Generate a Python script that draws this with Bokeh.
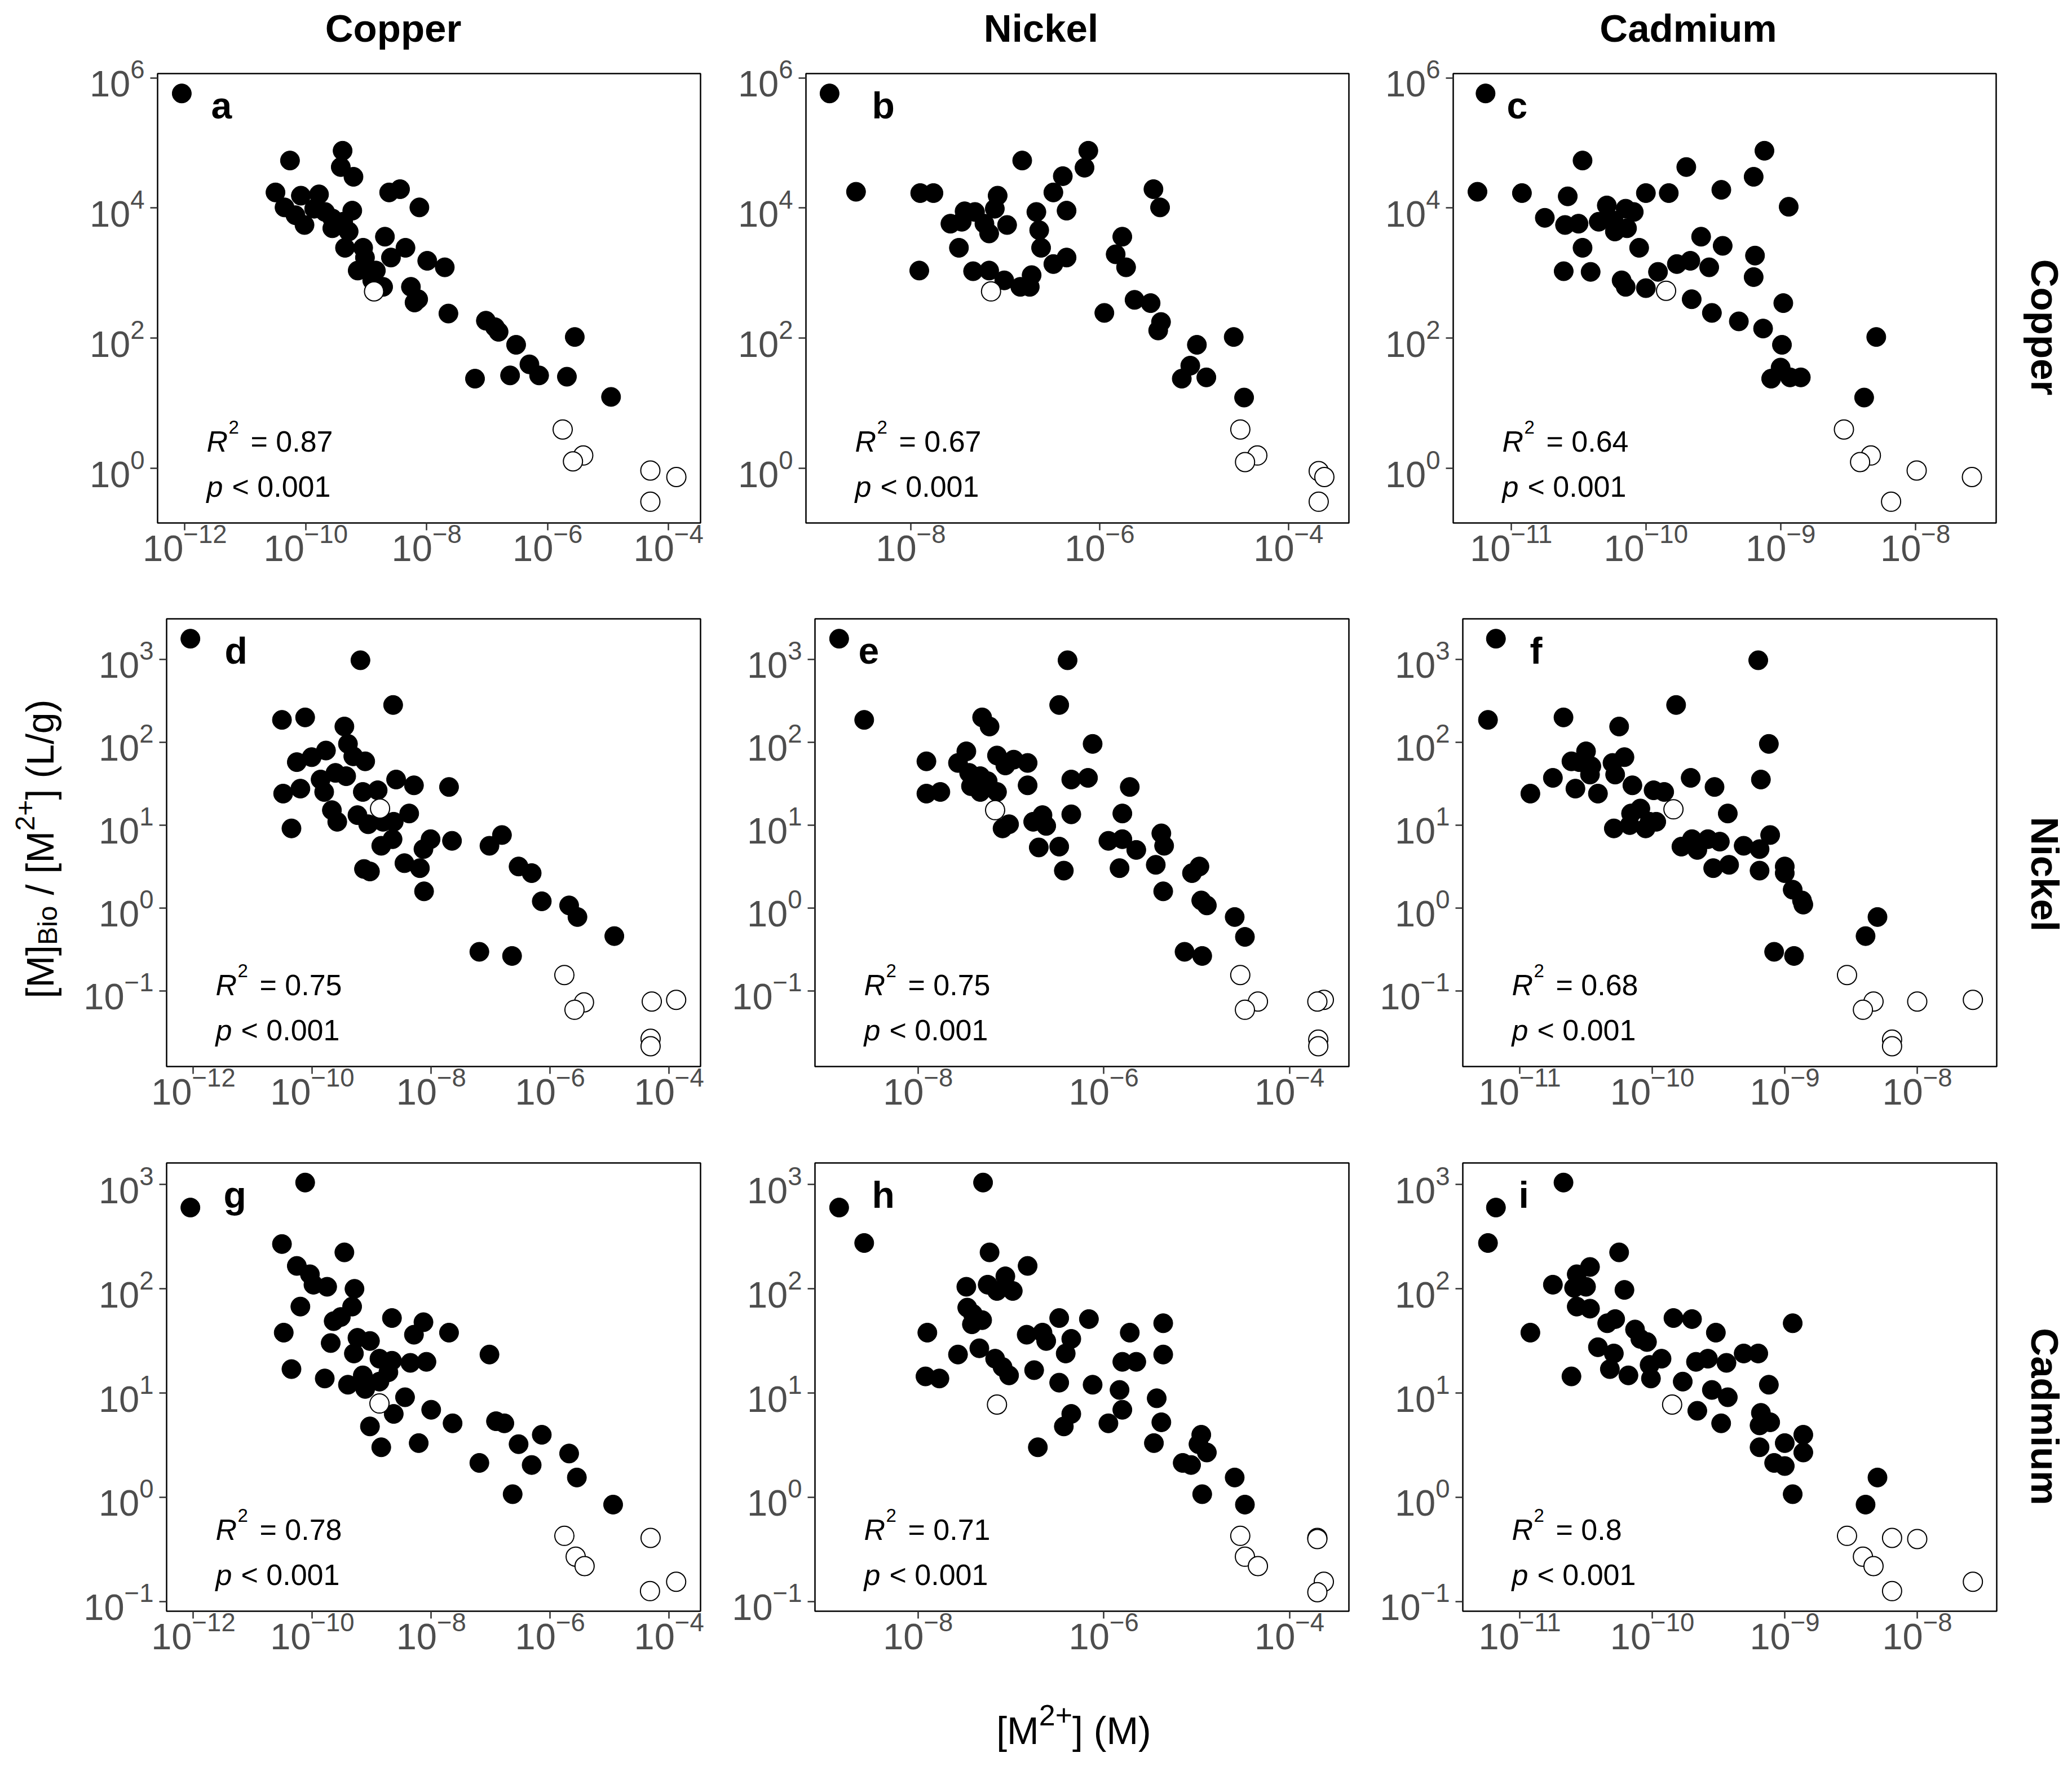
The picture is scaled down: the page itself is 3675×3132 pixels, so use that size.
import math
from bokeh.plotting import figure
from bokeh.layouts import column, row
from bokeh.models import Range1d, FixedTicker, LogTickFormatter
from bokeh.core.properties import value
from bokeh.embed import file_html
from bokeh.resources import INLINE

FONT = "Liberation Sans"

# ---------------- text / tick content ----------------
metals = ["Copper", "Nickel", "Cadmium"]
panel_letters = ["a", "b", "c", "d", "e", "f", "g", "h", "i"]
r2_values = ["0.87", "0.67", "0.64", "0.75", "0.75", "0.68", "0.78", "0.71", "0.8"]
p_value_text = "< 0.001"

# tick exponents (log10) per column (x) and per row (y)
col_x_ticks = [[-12, -10, -8, -6, -4], [-8, -6, -4], [-11, -10, -9, -8]]
row_y_ticks = [[0, 2, 4, 6], [-1, 0, 1, 2, 3], [-1, 0, 1, 2, 3]]
# axis limits (log10)
col_x_limits = [(-12.45, -3.47), (-9.11, -3.36), (-11.43, -7.40)]
row_y_limits = [(-0.836, 6.065), (-1.915, 3.49), (-1.093, 3.208)]

# ---------------- data: (log10 [M2+], log10 ratio) ----------------
a_filled = [(-12.05, 5.76), (-10.26, 4.73), (-9.39, 4.88), (-9.42, 4.63), (-9.21, 4.48), (-10.50, 4.24),
            (-10.08, 4.19), (-9.78, 4.21), (-8.62, 4.24), (-8.44, 4.29), (-8.12, 4.01), (-10.35, 4.01),
            (-10.17, 3.89), (-10.02, 3.74), (-9.86, 3.99), (-9.68, 3.94), (-9.56, 3.84), (-9.56, 3.69),
            (-9.38, 3.79), (-9.23, 3.96), (-9.29, 3.64), (-9.35, 3.39), (-9.05, 3.39), (-9.02, 3.24),
            (-8.69, 3.56), (-8.35, 3.39), (-8.59, 3.24), (-9.14, 3.04), (-8.84, 3.04), (-8.72, 2.79),
            (-8.90, 2.89), (-8.26, 2.79), (-8.14, 2.60), (-8.20, 2.55), (-7.99, 3.19), (-7.70, 3.09),
            (-7.64, 2.38), (-7.02, 2.27), (-6.87, 2.17), (-6.81, 2.10), (-6.52, 1.90), (-5.55, 2.02),
            (-6.30, 1.60), (-6.14, 1.43), (-7.20, 1.38), (-6.62, 1.43), (-5.68, 1.41), (-4.95, 1.10)]
a_open = [(-8.87, 2.72), (-5.75, 0.60), (-5.41, 0.20), (-5.58, 0.11), (-4.30, -0.03), (-3.87, -0.13), (-4.30, -0.51)]

b_filled = [(-8.86, 5.76), (-8.58, 4.25), (-7.90, 4.23), (-7.76, 4.23), (-6.82, 4.73), (-6.12, 4.88),
            (-6.16, 4.62), (-6.39, 4.49), (-6.49, 4.24), (-6.35, 3.96), (-5.43, 4.29), (-5.36, 4.01),
            (-7.08, 4.19), (-7.11, 3.99), (-7.43, 3.95), (-7.32, 3.94), (-7.58, 3.76), (-7.46, 3.79),
            (-7.22, 3.76), (-7.17, 3.61), (-6.98, 3.74), (-6.67, 3.94), (-6.64, 3.66), (-6.62, 3.39),
            (-7.49, 3.39), (-7.91, 3.04), (-7.34, 3.03), (-7.17, 3.04), (-7.01, 2.89), (-6.84, 2.79),
            (-6.74, 2.79), (-6.72, 2.97), (-6.49, 3.14), (-6.35, 3.24), (-5.76, 3.56), (-5.83, 3.29),
            (-5.72, 3.09), (-5.63, 2.59), (-5.46, 2.54), (-5.35, 2.25), (-5.38, 2.12), (-5.95, 2.39),
            (-4.97, 1.90), (-4.58, 2.02), (-5.04, 1.58), (-5.13, 1.38), (-4.87, 1.40), (-4.47, 1.09)]
b_open = [(-7.15, 2.72), (-4.51, 0.60), (-4.33, 0.20), (-4.46, 0.10), (-3.68, -0.04), (-3.62, -0.13), (-3.68, -0.51)]

c_filled = [(-11.19, 5.76), (-11.25, 4.25), (-10.92, 4.23), (-10.47, 4.73), (-9.70, 4.63), (-9.12, 4.88),
            (-9.20, 4.48), (-9.44, 4.28), (-8.94, 4.02), (-10.00, 4.23), (-9.83, 4.23), (-10.58, 4.18),
            (-10.75, 3.85), (-10.60, 3.74), (-10.50, 3.76), (-10.29, 4.04), (-10.35, 3.79), (-10.24, 3.81),
            (-10.15, 3.99), (-10.09, 3.94), (-10.23, 3.64), (-10.14, 3.69), (-10.47, 3.39), (-10.05, 3.39),
            (-10.61, 3.03), (-10.41, 3.02), (-10.18, 2.89), (-10.15, 2.79), (-10.00, 2.77), (-9.91, 3.02),
            (-9.77, 3.14), (-9.67, 3.19), (-9.59, 3.56), (-9.43, 3.42), (-9.53, 3.09), (-9.19, 3.27),
            (-9.20, 2.94), (-9.66, 2.60), (-9.51, 2.39), (-9.31, 2.26), (-9.13, 2.15), (-8.98, 2.54),
            (-8.99, 1.90), (-9.00, 1.55), (-9.07, 1.38), (-8.93, 1.40), (-8.85, 1.40), (-8.29, 2.02),
            (-8.38, 1.09)]
c_open = [(-9.85, 2.73), (-8.53, 0.60), (-8.33, 0.20), (-8.41, 0.10), (-7.99, -0.03), (-7.58, -0.13), (-8.18, -0.51)]

d_filled = [(-12.05, 3.25), (-9.19, 2.99), (-8.64, 2.45), (-10.51, 2.27), (-10.12, 2.30), (-9.46, 2.19),
            (-9.40, 1.98), (-9.77, 1.90), (-10.26, 1.76), (-10.01, 1.82), (-9.31, 1.83), (-9.11, 1.77),
            (-9.61, 1.63), (-9.43, 1.59), (-9.86, 1.55), (-10.20, 1.44), (-10.49, 1.38), (-9.80, 1.40),
            (-9.15, 1.40), (-8.90, 1.42), (-8.59, 1.55), (-8.29, 1.48), (-7.70, 1.46), (-9.67, 1.18),
            (-9.58, 1.04), (-9.24, 1.12), (-9.06, 1.01), (-8.81, 1.04), (-8.63, 1.04), (-8.37, 1.14),
            (-10.35, 0.96), (-8.84, 0.75), (-8.65, 0.83), (-8.13, 0.71), (-8.01, 0.83), (-7.65, 0.81),
            (-8.45, 0.54), (-8.19, 0.48), (-9.13, 0.47), (-9.03, 0.44), (-8.12, 0.20), (-7.02, 0.75),
            (-6.81, 0.88), (-6.53, 0.50), (-6.31, 0.42), (-6.14, 0.08), (-5.68, 0.03), (-5.54, -0.11),
            (-4.92, -0.34), (-7.19, -0.53), (-6.64, -0.58)]
d_open = [(-8.86, 1.20), (-5.76, -0.81), (-5.43, -1.14), (-5.59, -1.23), (-4.29, -1.13), (-3.88, -1.11),
          (-4.31, -1.58), (-4.31, -1.67)]

e_filled = [(-8.85, 3.25), (-8.58, 2.27), (-6.39, 2.99), (-6.48, 2.45), (-7.31, 2.30), (-7.23, 2.19),
            (-6.12, 1.98), (-7.91, 1.77), (-7.48, 1.89), (-7.57, 1.75), (-7.15, 1.84), (-7.06, 1.72),
            (-6.97, 1.79), (-6.82, 1.75), (-7.45, 1.63), (-7.33, 1.59), (-7.25, 1.53), (-7.43, 1.47),
            (-7.33, 1.40), (-7.15, 1.40), (-6.82, 1.48), (-6.35, 1.55), (-6.17, 1.57), (-5.72, 1.46),
            (-7.91, 1.38), (-7.76, 1.40), (-6.66, 1.12), (-6.76, 1.04), (-6.62, 0.99), (-7.09, 0.96),
            (-7.02, 1.01), (-6.35, 1.13), (-5.80, 1.14), (-6.70, 0.73), (-6.48, 0.74), (-6.43, 0.45),
            (-5.95, 0.81), (-5.80, 0.83), (-5.65, 0.70), (-5.83, 0.48), (-5.38, 0.90), (-5.35, 0.75),
            (-5.44, 0.52), (-5.36, 0.20), (-4.97, 0.50), (-5.05, 0.42), (-4.95, 0.09), (-4.89, 0.03),
            (-4.59, -0.11), (-4.48, -0.35), (-5.13, -0.53), (-4.94, -0.58)]
e_open = [(-7.17, 1.18), (-4.53, -0.81), (-4.34, -1.13), (-4.48, -1.23), (-3.63, -1.11), (-3.70, -1.13),
          (-3.69, -1.59), (-3.69, -1.67)]

f_filled = [(-11.18, 3.25), (-11.24, 2.27), (-10.67, 2.30), (-9.82, 2.45), (-10.25, 2.19), (-9.20, 2.99),
            (-9.12, 1.98), (-9.18, 1.55), (-10.92, 1.38), (-10.75, 1.57), (-10.58, 1.44), (-10.41, 1.38),
            (-10.61, 1.77), (-10.50, 1.89), (-10.55, 1.76), (-10.46, 1.71), (-10.47, 1.61), (-10.30, 1.75),
            (-10.21, 1.82), (-10.28, 1.61), (-10.15, 1.48), (-9.99, 1.42), (-9.91, 1.40), (-9.71, 1.57),
            (-9.53, 1.46), (-9.43, 1.14), (-10.16, 1.14), (-10.09, 1.20), (-10.02, 1.04), (-10.17, 1.00),
            (-10.05, 0.96), (-9.97, 1.04), (-10.29, 0.96), (-9.78, 0.74), (-9.70, 0.83), (-9.66, 0.70),
            (-9.58, 0.83), (-9.49, 0.80), (-9.54, 0.48), (-9.42, 0.52), (-9.31, 0.75), (-9.19, 0.71),
            (-9.11, 0.88), (-9.19, 0.45), (-9.00, 0.50), (-9.00, 0.42), (-8.94, 0.22), (-8.86, 0.04),
            (-8.87, 0.09), (-8.30, -0.11), (-8.39, -0.34), (-9.08, -0.53), (-8.93, -0.58)]
f_open = [(-9.84, 1.19), (-8.53, -0.81), (-8.33, -1.13), (-8.41, -1.23), (-8.00, -1.13), (-7.58, -1.11),
          (-8.19, -1.59), (-8.19, -1.67)]

g_filled = [(-12.05, 2.78), (-10.12, 3.02), (-10.51, 2.43), (-9.46, 2.35), (-10.26, 2.22), (-10.04, 2.14),
            (-9.98, 2.04), (-9.75, 2.02), (-9.29, 2.00), (-10.20, 1.83), (-9.33, 1.83), (-9.64, 1.69),
            (-9.52, 1.73), (-8.66, 1.72), (-8.13, 1.68), (-8.29, 1.56), (-7.70, 1.58), (-10.48, 1.58),
            (-9.69, 1.48), (-9.24, 1.53), (-9.03, 1.50), (-9.30, 1.38), (-8.87, 1.33), (-8.66, 1.31),
            (-8.35, 1.29), (-8.08, 1.30), (-10.35, 1.23), (-9.79, 1.14), (-9.40, 1.08), (-9.15, 1.17),
            (-9.11, 1.04), (-8.87, 1.11), (-8.72, 1.20), (-8.44, 0.96), (-8.63, 0.80), (-8.00, 0.84),
            (-7.64, 0.71), (-9.03, 0.68), (-8.84, 0.48), (-8.21, 0.52), (-7.02, 1.37), (-6.91, 0.73),
            (-6.77, 0.71), (-6.53, 0.51), (-6.14, 0.60), (-6.31, 0.31), (-7.19, 0.33), (-5.68, 0.42),
            (-5.55, 0.19), (-6.63, 0.03), (-4.94, -0.07)]
g_open = [(-8.87, 0.90), (-5.76, -0.37), (-5.57, -0.57), (-5.42, -0.66), (-4.31, -0.39), (-4.32, -0.90),
          (-3.88, -0.81)]

h_filled = [(-8.85, 2.78), (-8.58, 2.44), (-7.30, 3.02), (-7.23, 2.35), (-6.82, 2.22), (-7.48, 2.02),
            (-7.25, 2.04), (-7.15, 1.98), (-7.06, 2.12), (-6.98, 1.98), (-7.47, 1.82), (-7.41, 1.76),
            (-7.31, 1.70), (-7.42, 1.66), (-6.48, 1.72), (-6.16, 1.71), (-5.36, 1.67), (-7.90, 1.58),
            (-6.83, 1.56), (-6.66, 1.58), (-6.62, 1.50), (-6.35, 1.52), (-6.41, 1.38), (-5.72, 1.58),
            (-7.57, 1.37), (-7.34, 1.43), (-7.17, 1.33), (-7.09, 1.25), (-7.02, 1.17), (-7.92, 1.16),
            (-7.77, 1.14), (-6.75, 1.22), (-6.48, 1.10), (-6.12, 1.08), (-5.80, 1.30), (-5.65, 1.30),
            (-5.36, 1.37), (-5.83, 1.03), (-5.80, 0.84), (-5.95, 0.71), (-6.35, 0.80), (-6.43, 0.68),
            (-6.71, 0.48), (-5.43, 0.95), (-5.38, 0.72), (-5.46, 0.52), (-4.95, 0.60), (-4.98, 0.51),
            (-4.89, 0.43), (-5.15, 0.33), (-5.06, 0.31), (-4.59, 0.19), (-4.94, 0.03), (-4.48, -0.07)]
h_open = [(-7.15, 0.89), (-4.53, -0.37), (-4.48, -0.57), (-4.34, -0.66), (-3.70, -0.39), (-3.70, -0.40),
          (-3.63, -0.81), (-3.70, -0.91)]

i_filled = [(-11.24, 2.44), (-11.18, 2.78), (-10.67, 3.02), (-10.25, 2.35), (-10.47, 2.21), (-10.57, 2.14),
            (-10.75, 2.04), (-10.59, 2.01), (-10.50, 2.02), (-10.21, 1.99), (-10.57, 1.83), (-10.47, 1.81),
            (-10.34, 1.67), (-10.28, 1.71), (-10.13, 1.61), (-10.09, 1.52), (-10.04, 1.49), (-10.92, 1.58),
            (-9.84, 1.72), (-9.70, 1.71), (-9.52, 1.58), (-8.94, 1.67), (-10.41, 1.44), (-10.29, 1.38),
            (-10.32, 1.23), (-10.18, 1.17), (-10.61, 1.16), (-10.02, 1.27), (-9.93, 1.33), (-10.01, 1.14),
            (-9.77, 1.11), (-9.67, 1.30), (-9.58, 1.33), (-9.44, 1.29), (-9.31, 1.38), (-9.20, 1.38),
            (-9.12, 1.08), (-9.55, 1.03), (-9.43, 0.96), (-9.66, 0.83), (-9.48, 0.71), (-9.18, 0.81),
            (-9.19, 0.69), (-9.11, 0.72), (-9.19, 0.48), (-9.00, 0.52), (-8.86, 0.60), (-8.86, 0.43),
            (-9.08, 0.33), (-9.00, 0.30), (-8.94, 0.03), (-8.30, 0.19), (-8.39, -0.07)]
i_open = [(-9.85, 0.89), (-8.53, -0.37), (-8.41, -0.57), (-8.33, -0.66), (-8.19, -0.39), (-8.00, -0.40),
          (-8.19, -0.90), (-7.58, -0.81)]

filled_sets = [a_filled, b_filled, c_filled, d_filled, e_filled, f_filled, g_filled, h_filled, i_filled]
open_sets = [a_open, b_open, c_open, d_open, e_open, f_open, g_open, h_open, i_open]

# ---------------- layout (pixel geometry, page coordinates) ----------------
COL_EDGES = [130, 1250, 2400, 3550]
ROW_EDGES = [92, 1085, 2050, 3010]
FRAME_LEFT = [[279, 1429, 2577], [295, 1445, 2594], [295, 1445, 2594]]
FRAME_RIGHT = [[1242, 2392, 3540], [1242, 2392, 3541], [1242, 2392, 3541]]
FRAME_TOP = [130, 1097, 2062]
FRAME_BOT = [927, 1891, 2857]
LETTER_DX = [95, 117, 95, 103, 77, 119, 101, 101, 99]

TICK_FONT = "65px"
LABEL_COLOR = "#4D4D4D"


def style_text(p, xs, ys, txt, size, style="normal", align="left", color="black", angle=0.0):
    p.text(x=xs, y=ys, text=txt, text_font=value(FONT), text_font_size=value(size),
           text_font_style=style, text_align=align, text_baseline="middle", text_color=color, angle=angle)


def make_panel(r, c):
    k = r * 3 + c
    xlo, xhi = col_x_limits[c]
    ylo, yhi = row_y_limits[r]
    fl, fr = FRAME_LEFT[r][c], FRAME_RIGHT[r][c]
    ft, fb = FRAME_TOP[r], FRAME_BOT[r]
    fw, fh = fr - fl, fb - ft
    p = figure(x_axis_type="log", y_axis_type="log",
               x_range=Range1d(10 ** xlo, 10 ** xhi), y_range=Range1d(10 ** ylo, 10 ** yhi),
               frame_width=fw, frame_height=fh,
               min_border_left=fl - COL_EDGES[c], min_border_right=COL_EDGES[c + 1] - fr,
               min_border_top=ft - ROW_EDGES[r], min_border_bottom=ROW_EDGES[r + 1] - fb,
               toolbar_location=None, output_backend="svg", title=None)
    p.grid.visible = False
    p.outline_line_color = "black"
    p.outline_line_width = 2.5
    p.background_fill_color = "white"
    p.border_fill_color = "white"
    p.xaxis.ticker = FixedTicker(ticks=[10.0 ** t for t in col_x_ticks[c]])
    p.yaxis.ticker = FixedTicker(ticks=[10.0 ** t for t in row_y_ticks[r]])
    p.xaxis.formatter = LogTickFormatter()
    p.yaxis.formatter = LogTickFormatter()
    for ax in (p.xaxis, p.yaxis):
        ax.axis_line_color = None
        ax.major_tick_line_color = "#333333"
        ax.major_tick_line_width = 2.5
        ax.major_tick_out = 13
        ax.major_tick_in = 0
        ax.minor_tick_line_color = None
        ax.major_label_text_font = FONT
        ax.major_label_text_font_size = TICK_FONT
        ax.major_label_text_color = LABEL_COLOR
    p.xaxis.major_label_standoff = -12
    p.yaxis.major_label_standoff = 10

    fx = [10 ** v[0] for v in filled_sets[k]]
    fy = [10 ** v[1] for v in filled_sets[k]]
    ox = [10 ** v[0] for v in open_sets[k]]
    oy = [10 ** v[1] for v in open_sets[k]]
    p.scatter(fx, fy, marker="circle", size=34, fill_color="black", line_color="black", line_width=1)
    p.scatter(ox, oy, marker="circle", size=34, fill_color="white", line_color="black", line_width=2)

    def xd(px):
        return 10 ** (xlo + px / fw * (xhi - xlo))

    def yd(py):
        return 10 ** (yhi - py / fh * (yhi - ylo))

    style_text(p, [xd(LETTER_DX[k])], [yd(56)], [panel_letters[k]], "66px", style="bold")
    x0 = 87
    style_text(p, [xd(x0)], [yd(fh - 145)], ["R"], "52px", style="italic")
    style_text(p, [xd(x0 + 39)], [yd(fh - 170)], ["2"], "33px")
    style_text(p, [xd(x0 + 78)], [yd(fh - 145)], ["= " + r2_values[k]], "52px")
    style_text(p, [xd(x0)], [yd(fh - 65)], ["p"], "52px", style="italic")
    style_text(p, [xd(x0 + 45)], [yd(fh - 65)], [p_value_text], "52px")
    return p


def strip(x0, x1, y0, y1):
    p = figure(frame_width=x1 - x0, frame_height=y1 - y0, x_range=Range1d(x0, x1), y_range=Range1d(y1, y0),
               x_axis_location=None, y_axis_location=None, toolbar_location=None,
               output_backend="svg", min_border=0, title=None)
    p.grid.visible = False
    p.outline_line_color = None
    p.background_fill_color = "white"
    p.border_fill_color = "white"
    return p


PAGE_L, PAGE_R, PAGE_T, PAGE_B = 0, 3668, 0, 3128

# top strip: column titles
top = strip(PAGE_L, PAGE_R, PAGE_T, ROW_EDGES[0])
col_title_x = [697, 1846, 2994]
style_text(top, col_title_x, [50, 50, 50], metals, "69px", style="bold", align="center")

# right strip: row titles (reading downwards)
right = strip(COL_EDGES[3], PAGE_R, ROW_EDGES[0], ROW_EDGES[3])
style_text(right, [3626, 3626, 3626], [580, 1550, 2512], metals, "69px", style="bold", align="center",
           angle=-math.pi / 2)

# left strip: y-axis title  [M]_Bio / [M^2+] (L/g), reading upwards
left = strip(PAGE_L, COL_EDGES[0], ROW_EDGES[0], ROW_EDGES[3])
F = 68
S = 48
# (text, font size, shift across the line, start along the line)
ypieces = [("[M]", F, 0, 0), ("Bio", S, 14, 94.5), ("/", F, 0, 183), ("[M", F, 0, 221),
           ("2+", S, -26, 297), ("]", F, 0, 352), ("(L/g)", F, 0, 390)]
ylen = 530
ystart = 1505 + ylen / 2
for txt, size, shift, off in ypieces:
    style_text(left, [70 + shift], [ystart - off], [txt], f"{size}px", angle=math.pi / 2)

# bottom strip: x-axis title [M^2+] (M)
bottom = strip(PAGE_L, PAGE_R, ROW_EDGES[3], PAGE_B)
xpieces = [("[M", F, 3068, 1.111 * F), ("2+", 52, 3041, 1.14 * 52), ("] (M)", F, 3068, 2.055 * F)]
xt = sum(pc[3] for pc in xpieces)
xcur = 1904 - xt / 2
for txt, size, ypos, w in xpieces:
    style_text(bottom, [xcur], [ypos], [txt], f"{size}px")
    xcur += w

panel_rows = [row(*[make_panel(r, c) for c in range(3)]) for r in range(3)]
grid = column(*panel_rows)
layout = column(top, row(left, grid, right), bottom)

open("out.html", "w").write(file_html(layout, INLINE))
